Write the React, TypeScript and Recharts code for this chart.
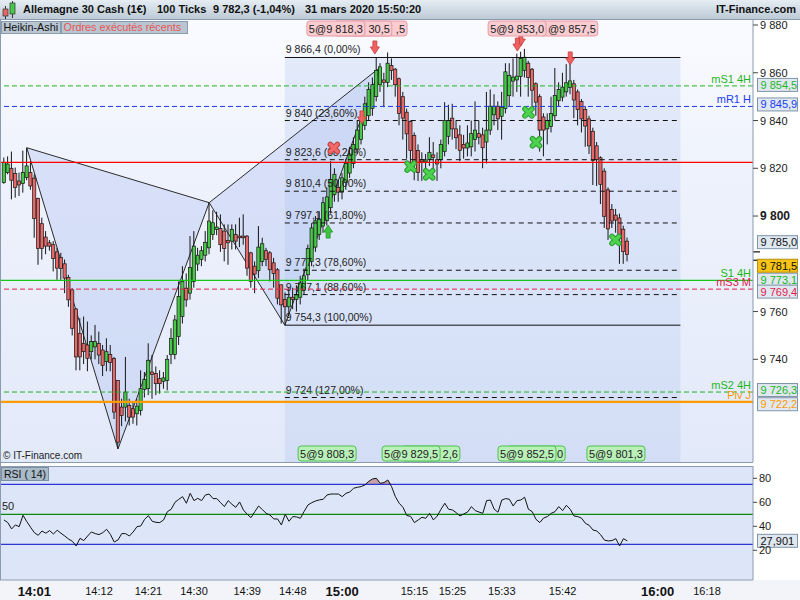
import React from "react";
import {
  ComposedChart,
  Bar,
  Line,
  Area,
  XAxis,
  YAxis,
  ReferenceLine,
  ReferenceArea,
  ReferenceDot,
} from "recharts";

// Heikin-Ashi candles, 100 ticks each
const haOpen = [
  9814.0, 9818.2, 9820.0, 9817.8, 9814.7, 9813.6, 9816.1, 9818.2, 9815.9, 9807.4,
  9796.8, 9791.2, 9788.8, 9788.0, 9785.0, 9782.7, 9780.0, 9774.3, 9769.1, 9761.1,
  9750.9, 9746.7, 9746.0, 9743.2, 9745.2, 9746.7, 9743.9, 9739.0, 9742.0, 9740.4,
  9731.2, 9720.0, 9720.0, 9720.7, 9719.3, 9717.2, 9718.6, 9727.4, 9727.7, 9734.7,
  9734.0, 9731.9, 9730.8, 9731.2, 9742.0, 9742.0, 9749.5, 9757.9, 9769.8, 9767.7,
  9772.6, 9779.9, 9781.8, 9783.6, 9786.7, 9792.3, 9794.4, 9794.8, 9793.7, 9789.8,
  9789.5, 9792.3, 9791.6, 9791.6, 9791.6, 9784.6, 9779.0, 9777.1, 9781.0, 9785.5,
  9784.6, 9780.4, 9777.5, 9771.2, 9765.0, 9762.0, 9766.0, 9765.0, 9766.0, 9769.0,
  9775.4, 9781.0, 9787.0, 9792.3, 9795.8, 9798.0, 9803.5, 9809.0, 9812.0, 9810.0,
  9814.0, 9818.0, 9822.0, 9828.0, 9832.0, 9838.0, 9842.0, 9845.0, 9850.0, 9855.0,
  9857.0, 9856.0, 9863.0, 9861.5, 9857.5, 9850.0, 9843.5, 9839.6, 9833.7, 9827.4,
  9823.6, 9822.7, 9823.6, 9825.6, 9823.6, 9823.6, 9827.0, 9833.4, 9841.0, 9836.5,
  9834.0, 9830.0, 9828.5, 9829.0, 9832.0, 9834.5, 9834.0, 9831.0, 9836.0, 9842.4,
  9846.0, 9841.8, 9845.0, 9850.4, 9856.5, 9857.0, 9858.5, 9861.0, 9864.0, 9861.5,
  9855.4, 9850.0, 9841.5, 9836.5, 9837.5, 9842.0, 9848.3, 9849.8, 9852.0, 9853.8,
  9855.4, 9852.0, 9848.0, 9844.6, 9840.7, 9835.5, 9829.4, 9824.4, 9818.8, 9811.0,
  9802.8, 9800.4, 9799.2, 9794.5, 9789.5,
];
const haHigh = [
  9824.5, 9825.0, 9827.0, 9820.3, 9818.2, 9827.4, 9828.6, 9823.0, 9817.5, 9807.7,
  9799.3, 9793.7, 9790.0, 9789.5, 9786.7, 9784.6, 9781.8, 9775.4, 9769.8, 9761.4,
  9757.2, 9757.9, 9755.8, 9750.0, 9754.4, 9751.6, 9746.0, 9748.8, 9746.0, 9741.0,
  9731.2, 9723.5, 9741.0, 9723.5, 9722.0, 9723.5, 9735.4, 9734.7, 9746.7, 9741.8,
  9737.0, 9735.4, 9734.7, 9741.8, 9753.0, 9758.6, 9772.6, 9779.0, 9776.0, 9791.6,
  9793.7, 9786.7, 9787.4, 9793.7, 9805.6, 9802.4, 9801.8, 9800.7, 9796.5, 9796.5,
  9796.5, 9796.5, 9799.3, 9800.7, 9792.0, 9785.0, 9781.0, 9795.8, 9790.9, 9786.7,
  9785.3, 9782.5, 9778.2, 9771.2, 9768.0, 9770.0, 9770.0, 9771.0, 9775.0, 9778.0,
  9788.0, 9797.0, 9800.0, 9802.0, 9808.0, 9812.0, 9823.0, 9820.0, 9815.0, 9818.0,
  9824.0, 9829.0, 9833.0, 9840.0, 9843.0, 9850.0, 9856.0, 9858.0, 9866.4, 9864.0,
  9860.0, 9868.5, 9866.0, 9862.0, 9858.0, 9852.0, 9845.0, 9840.0, 9835.0, 9830.0,
  9826.7, 9826.0, 9833.0, 9831.0, 9826.7, 9832.0, 9847.7, 9846.6, 9847.0, 9840.0,
  9838.0, 9834.0, 9838.0, 9840.0, 9848.0, 9840.0, 9837.0, 9852.0, 9853.0, 9851.0,
  9848.0, 9852.0, 9864.0, 9864.0, 9866.0, 9868.0, 9868.8, 9870.0, 9865.0, 9862.0,
  9856.0, 9851.0, 9843.0, 9843.0, 9850.0, 9862.0, 9856.0, 9860.0, 9863.6, 9866.0,
  9857.0, 9853.0, 9849.0, 9846.0, 9842.0, 9837.0, 9831.0, 9825.0, 9820.0, 9812.0,
  9805.0, 9803.0, 9801.0, 9796.0, 9791.0,
];
const haLow = [
  9813.5, 9817.5, 9807.0, 9807.7, 9808.4, 9809.8, 9815.0, 9811.0, 9790.9, 9779.6,
  9781.8, 9784.0, 9785.5, 9776.8, 9773.3, 9773.3, 9767.7, 9762.0, 9750.0, 9735.4,
  9735.4, 9738.0, 9735.0, 9740.0, 9740.0, 9738.0, 9733.0, 9735.0, 9735.0, 9715.0,
  9702.5, 9712.0, 9714.0, 9712.3, 9713.0, 9712.3, 9716.5, 9724.0, 9725.0, 9723.5,
  9725.0, 9725.6, 9727.7, 9727.0, 9738.0, 9740.0, 9746.0, 9755.0, 9762.0, 9765.0,
  9770.0, 9777.0, 9779.0, 9781.0, 9784.0, 9790.0, 9792.0, 9785.0, 9781.0, 9779.6,
  9786.0, 9786.0, 9787.0, 9788.0, 9775.0, 9770.0, 9767.7, 9774.0, 9779.0, 9779.0,
  9772.6, 9770.0, 9763.0, 9755.0, 9754.3, 9758.0, 9761.0, 9760.0, 9763.0, 9767.0,
  9773.0, 9779.0, 9785.0, 9790.0, 9793.0, 9796.0, 9801.0, 9806.0, 9806.0, 9807.0,
  9811.0, 9816.0, 9820.0, 9826.0, 9830.0, 9836.0, 9840.0, 9842.0, 9848.0, 9852.0,
  9845.6, 9854.0, 9857.0, 9850.0, 9838.0, 9832.0, 9824.0, 9820.0, 9815.0, 9814.7,
  9814.7, 9815.5, 9821.0, 9820.0, 9814.7, 9820.0, 9825.0, 9830.0, 9832.0, 9828.0,
  9823.0, 9824.0, 9825.0, 9825.0, 9827.0, 9830.0, 9820.0, 9822.0, 9834.0, 9838.0,
  9836.0, 9832.0, 9843.0, 9846.0, 9850.0, 9852.0, 9850.0, 9858.0, 9850.0, 9846.0,
  9842.0, 9827.0, 9825.0, 9830.0, 9835.0, 9840.0, 9846.0, 9848.0, 9850.0, 9851.0,
  9841.0, 9838.0, 9835.0, 9829.0, 9826.0, 9813.0, 9812.6, 9805.0, 9795.0, 9790.0,
  9795.0, 9793.0, 9780.0, 9780.0, 9781.0,
];
const haClose = [
  9822.5, 9821.8, 9815.0, 9812.0, 9813.0, 9818.2, 9821.0, 9812.6, 9799.0, 9786.4,
  9786.4, 9787.4, 9787.4, 9782.2, 9778.2, 9778.0, 9774.0, 9764.9, 9753.0, 9741.0,
  9741.0, 9743.2, 9740.4, 9747.4, 9747.4, 9741.8, 9737.5, 9743.2, 9738.7, 9717.9,
  9705.3, 9716.5, 9726.3, 9715.8, 9715.8, 9720.4, 9727.7, 9731.6, 9739.6, 9733.6,
  9729.8, 9729.8, 9732.2, 9740.0, 9748.8, 9756.5, 9766.3, 9772.6, 9764.9, 9778.5,
  9787.4, 9783.6, 9785.5, 9789.0, 9797.9, 9797.2, 9795.4, 9788.0, 9786.4, 9788.8,
  9794.4, 9789.5, 9790.9, 9790.9, 9778.2, 9772.6, 9775.7, 9787.0, 9788.4, 9781.8,
  9777.5, 9776.0, 9765.6, 9762.8, 9762.0, 9766.0, 9765.0, 9767.0, 9772.0, 9775.0,
  9786.4, 9795.0, 9798.0, 9798.6, 9805.6, 9808.0, 9815.4, 9817.5, 9810.0, 9816.0,
  9822.0, 9826.0, 9830.0, 9836.0, 9840.0, 9847.0, 9853.0, 9855.0, 9861.0, 9862.5,
  9856.0, 9864.0, 9861.0, 9855.0, 9843.0, 9841.0, 9834.4, 9827.4, 9822.5, 9818.2,
  9822.7, 9823.5, 9826.7, 9824.6, 9821.8, 9830.0, 9840.0, 9840.0, 9836.5, 9832.8,
  9827.5, 9828.5, 9830.6, 9834.5, 9836.0, 9833.0, 9828.6, 9836.0, 9846.0, 9846.0,
  9840.7, 9845.6, 9860.4, 9858.8, 9858.2, 9858.6, 9866.0, 9866.5, 9858.0, 9852.7,
  9847.7, 9836.0, 9836.0, 9840.0, 9843.0, 9850.5, 9853.0, 9854.0, 9855.8, 9856.6,
  9848.6, 9844.6, 9840.7, 9837.7, 9829.4, 9823.3, 9823.6, 9813.3, 9799.9, 9794.6,
  9797.9, 9798.3, 9790.5, 9785.1, 9783.9,
];

const rsi14 = [
  45.3, 43.1, 37.8, 41.1, 39.7, 49.2, 43.9, 39.2, 34.7, 32.5,
  36.1, 34.2, 36.4, 33.6, 36.7, 34.2, 31.9, 29.4, 27.5, 23.6,
  30.0, 28.1, 31.9, 35.3, 33.9, 33.1, 34.7, 37.5, 33.3, 26.9,
  28.6, 33.9, 33.9, 31.9, 35.3, 39.7, 40.3, 45.8, 48.9, 44.2,
  43.3, 43.1, 45.3, 52.2, 54.2, 60.0, 62.5, 64.7, 59.2, 67.5,
  61.4, 63.3, 61.4, 66.1, 66.9, 63.1, 63.1, 59.7, 56.4, 61.4,
  58.3, 55.8, 60.3, 53.6, 50.0, 47.2, 52.2, 56.9, 53.9, 50.8,
  49.4, 46.1, 46.1, 41.1, 50.0, 44.2, 48.1, 47.8, 46.7, 52.5,
  57.8, 59.7, 61.1, 62.0, 62.5, 66.1, 66.9, 66.9, 66.9, 64.7,
  67.5, 68.6, 71.7, 72.5, 73.1, 74.5, 77.5, 79.5, 80.0, 75.8,
  76.4, 78.6, 73.0, 64.7, 59.2, 55.8, 49.0, 48.3, 43.1, 45.3,
  47.5, 46.7, 50.8, 45.3, 48.5, 54.2, 59.2, 54.2, 53.6, 51.4,
  48.6, 50.3, 51.9, 56.4, 53.1, 51.9, 50.8, 61.4, 61.9, 54.2,
  51.7, 61.9, 63.1, 62.5, 56.9, 61.4, 61.9, 64.2, 54.2, 52.2,
  45.8, 43.1, 46.9, 48.1, 50.8, 52.2, 56.4, 53.1, 57.5, 54.2,
  48.6, 48.1, 46.7, 42.5, 40.8, 36.9, 36.1, 33.0, 28.5, 27.8,
  28.1, 29.7, 23.6, 29.7, 27.901,
];

const timeTickIdx = [8, 25, 38, 50, 64, 76, 89, 108, 118, 131, 147, 172, 185];
const timeTickLabels = ["14:01", "14:12", "14:21", "14:30", "14:39", "14:48", "15:00", "15:15", "15:25", "15:33", "15:42", "16:00", "16:18"];
const boldTimes = ["14:01", "15:00", "16:00"];
const priceTicks = [9740, 9760, 9800, 9820, 9840, 9860, 9880];
const rsiTicks = [20, 40, 60, 80];

// X A B C D points of the harmonic pattern
const patternIdx = [6, 30, 54, 73.9, 99];
const patternPrice = [9828.6, 9702.5, 9805.6, 9754.3, 9862.3];

const fibEndIdx = 178;
const fibValues = [9866.4, 9840, 9823.6, 9810.4, 9797.1, 9777.3, 9767.1, 9754.3, 9724];
const fibRatios = ["0,00%", "23,60%", "38,20%", "50,00%", "61,80%", "78,60%", "88,60%", "100,00%", "127,00%"];

const levelNames = ["mS1 4H", "mR1 H", "", "S1 4H", "mS3 M", "mS2 4H", "Piv J"];
const levelValues = [9854.5, 9845.9, 9822.5, 9773.1, 9769.4, 9726.3, 9722.2];
const markerValues = [9785.0, 9781.5];

// executed orders; boxes drawn back to front, only the visible part of covered labels is shown
const topOrderIdx = [90.8, 86.8, 79.7, 141, 127.4];
const topOrderText = [",5", "30,5", "5@9 818,3", "@9 857,5", "5@9 853,0"];
const bottomOrderIdx = [77.4, 104.7, 99.5, 132.4, 130, 153.4];
const bottomOrderText = ["5@9 808,3", "2,6", "5@9 829,5", "0", "5@9 852,5", "5@9 801,3"];

const arrowDownIdx = [97.6, 94.2, 136.0, 135.1, 149];
const arrowDownPrice = [9870.4, 9841.1, 9873.7, 9871.6, 9865.8];
const arrowUpIdx = [85.3];
const arrowUpPrice = [9793.7];
const crossGreenIdx = [107, 111.9, 138, 140, 160.9];
const crossGreenPrice = [9820.7, 9817.5, 9843.4, 9830.9, 9790.0];
const crossRedIdx = [86.8];
const crossRedPrice = [9828.5];

const candles = haOpen.map((o, i) => ({ i, open: o, high: haHigh[i], low: haLow[i], close: haClose[i] }));
const rsiData = rsi14.map((v, i) => ({ i, rsi: v }));

const X_DOMAIN: [number, number] = [-1.05, 197.1];
const PRICE_DOMAIN: [number, number] = [9697, 9882.1];
const RSI_DOMAIN: [number, number] = [-4.75, 90.25];

const levelStyles = [
  { stroke: "#1fb51f", dash: "5 3", width: 1, text: "#1fb51f", shift: -1 },
  { stroke: "#1a3cf0", dash: "5 3", width: 1, text: "#1a3cf0", shift: -2 },
  { stroke: "#ff0000", dash: undefined, width: 1.2, text: "#ff0000", shift: 0 },
  { stroke: "#14c814", dash: undefined, width: 1.2, text: "#14b814", shift: -0.6 },
  { stroke: "#e3204a", dash: "5 3", width: 1, text: "#e3204a", shift: 2.5 },
  { stroke: "#1fb51f", dash: "5 3", width: 1, text: "#1fb51f", shift: -2 },
  { stroke: "#ff9a00", dash: undefined, width: 2.2, text: "#ff9a00", shift: 2.4 },
];
const markerStyles = [
  { bg: "#dfe7f0", border: "#7f94a9", text: "#111", shift: -9.7 },
  { bg: "#f7c316", border: "#b8900a", text: "#111", shift: 5.5 },
];

function fmt(v: number, dec: number): string {
  const s = v.toFixed(dec);
  const [a, b] = s.split(".");
  const grouped = a.replace(/\B(?=(\d{3})+(?!\d))/g, " ");
  return b ? `${grouped},${b}` : grouped;
}

const ValueBox = ({ x, y, text, color, bg = "#dfe7f0", border = "#7f94a9" }: any) => (
  <g>
    <rect x={x} y={y - 6.5} width={40} height={13} fill={bg} stroke={border} strokeWidth={1} />
    <text x={x + 3} y={y + 4} fontSize={11} fill={color}>
      {text}
    </text>
  </g>
);

const Candle = (props: any) => {
  const { x, y, width, height, payload } = props;
  if (x == null || y == null || !payload) return null;
  const top = Math.min(y, y + height);
  const h = Math.abs(height);
  const span = payload.high - payload.low || 1;
  const py = (p: number) => top + ((payload.high - p) / span) * h;
  const cx = x + width / 2;
  const up = payload.close >= payload.open;
  const b1 = py(Math.max(payload.open, payload.close));
  const b2 = py(Math.min(payload.open, payload.close));
  return (
    <g>
      <line x1={cx} x2={cx} y1={top} y2={top + h} stroke="#151515" strokeWidth={1} />
      <rect
        x={cx - 1.6}
        y={b1}
        width={3.2}
        height={Math.max(b2 - b1, 1.2)}
        fill={up ? "#47c947" : "#e86868"}
        stroke="#151515"
        strokeWidth={0.7}
      />
    </g>
  );
};

function triangle(ids: number[]) {
  const xs = ids.map((k) => patternIdx[k]);
  const ps = ids.map((k) => patternPrice[k]);
  const x1 = Math.min(...xs);
  const x2 = Math.max(...xs);
  const lo = Math.min(...ps);
  const hi = Math.max(...ps);
  const shape = (props: any) => {
    const { x, y, width, height } = props;
    const pts = xs
      .map((v, n) => `${x + ((v - x1) / (x2 - x1)) * width},${y + ((hi - ps[n]) / (hi - lo)) * height}`)
      .join(" ");
    return <polygon points={pts} fill="#9db5ee" fillOpacity={0.28} stroke="#2b2b2b" strokeWidth={1} />;
  };
  return { x1, x2, lo, hi, shape };
}

const triXAB = triangle([0, 1, 2]);
const triBCD = triangle([2, 3, 4]);

const ArrowDown = ({ cx, cy }: any) => (
  <path
    d={`M${cx - 2},${cy - 7} H${cx + 2} V${cy - 1} H${cx + 4.5} L${cx},${cy + 6} L${cx - 4.5},${cy - 1} H${cx - 2} Z`}
    fill="#f06262"
    stroke="#c43c3c"
    strokeWidth={0.8}
  />
);
const ArrowUp = ({ cx, cy }: any) => (
  <path
    d={`M${cx - 2},${cy + 7} H${cx + 2} V${cy + 1} H${cx + 4.5} L${cx},${cy - 6} L${cx - 4.5},${cy + 1} H${cx - 2} Z`}
    fill="#3cc83c"
    stroke="#23922a"
    strokeWidth={0.8}
  />
);
const makeCross = (fill: string, dark: string) => ({ cx, cy }: any) => {
  const d = `M${cx - 3.5},${cy - 3.5} L${cx + 3.5},${cy + 3.5} M${cx + 3.5},${cy - 3.5} L${cx - 3.5},${cy + 3.5}`;
  return (
    <g>
      <path d={d} stroke={dark} strokeWidth={5.5} strokeLinecap="round" />
      <path d={d} stroke={fill} strokeWidth={3.5} strokeLinecap="round" />
    </g>
  );
};
const GreenCross = makeCross("#4cd24c", "#2a9a30");
const RedCross = makeCross("#f06a6a", "#c44040");

const orderBox = (text: string, top: boolean) => ({ cx, cy }: any) => {
  const y0 = top ? cy + 1 : cy - 16;
  return (
    <g>
      <rect
        x={cx}
        y={y0}
        width={58}
        height={15}
        rx={3}
        fill={top ? "#f8ccd0" : "#b8f0b8"}
        stroke={top ? "#e79aa3" : "#4fc24f"}
        strokeWidth={1}
      />
      <text x={cx + 56} y={y0 + 11.5} textAnchor="end" fontSize={11} fill="#222">
        {text}
      </text>
    </g>
  );
};

const PriceTick = (props: any) => {
  const { x, y, payload } = props;
  const bold = payload.value === 9800;
  return (
    <text x={x} y={y + 4} fontSize={bold ? 12 : 11} fontWeight={bold ? 700 : 400} fill="#1a1a1a">
      {fmt(payload.value, 0)}
    </text>
  );
};

const RsiTick = (props: any) => {
  const { x, y, payload } = props;
  return (
    <text x={x} y={y + 4} fontSize={11} fill="#1a1a1a">
      {payload.value}
    </text>
  );
};

const TimeTick = (props: any) => {
  const { x, y, payload } = props;
  const k = timeTickIdx.indexOf(payload.value);
  const label = k >= 0 ? timeTickLabels[k] : "";
  const bold = boldTimes.includes(label);
  return (
    <text x={x} y={y + (bold ? 8 : 7)} textAnchor="middle" fontSize={bold ? 13 : 11} fontWeight={bold ? 700 : 400} fill="#111">
      {label}
    </text>
  );
};

function PriceChart() {
  return (
    <ComposedChart width={800} height={442} data={candles} margin={{ top: 0, right: 0, bottom: 0, left: 0 }}>
      <XAxis dataKey="i" type="number" domain={X_DOMAIN} hide allowDataOverflow />
      <YAxis
        orientation="right"
        width={47}
        type="number"
        domain={PRICE_DOMAIN}
        ticks={priceTicks}
        interval={0}
        allowDataOverflow
        tick={PriceTick}
        tickSize={5}
        tickLine={{ stroke: "#444" }}
        axisLine={{ stroke: "#8a9bb0" }}
      />
      <ReferenceArea
        x1={patternIdx[3]}
        x2={fibEndIdx}
        y1={PRICE_DOMAIN[0]}
        y2={fibValues[0]}
        fill="#a8bff0"
        fillOpacity={0.25}
        stroke="none"
      />
      <ReferenceArea x1={triXAB.x1} x2={triXAB.x2} y1={triXAB.lo} y2={triXAB.hi} shape={triXAB.shape} />
      <ReferenceArea x1={triBCD.x1} x2={triBCD.x2} y1={triBCD.lo} y2={triBCD.hi} shape={triBCD.shape} />

      {fibValues.map((v, k) => (
        <ReferenceLine
          key={`fib${k}`}
          segment={[
            { x: patternIdx[3], y: v },
            { x: fibEndIdx, y: v },
          ]}
          stroke="#111"
          strokeWidth={1}
          strokeDasharray={k === 0 || k === 7 ? undefined : "5 4"}
          label={(p: any) => (
            <text x={p.viewBox.x + 1} y={p.viewBox.y - 4} fontSize={10.5} fill="#222">
              {`${fmt(v, Number.isInteger(v) ? 0 : 1)} (${fibRatios[k]})`}
            </text>
          )}
        />
      ))}

      {levelValues.map((v, k) => {
        const s = levelStyles[k];
        return (
          <ReferenceLine
            key={`lvl${k}`}
            y={v}
            stroke={s.stroke}
            strokeWidth={s.width}
            strokeDasharray={s.dash}
            label={(p: any) => {
              if (!levelNames[k]) return <g />;
              const right = p.viewBox.x + p.viewBox.width;
              const y = p.viewBox.y;
              return (
                <g>
                  <text x={right - 2} y={y - 3} textAnchor="end" fontSize={11} fill={s.text}>
                    {levelNames[k]}
                  </text>
                  <ValueBox x={right + 4.5} y={y + s.shift} text={fmt(v, 1)} color={s.text} />
                </g>
              );
            }}
          />
        );
      })}

      {markerValues.map((v, k) => {
        const s = markerStyles[k];
        return (
          <ReferenceLine
            key={`mk${k}`}
            y={v}
            stroke="none"
            label={(p: any) => {
              const right = p.viewBox.x + p.viewBox.width;
              const y = p.viewBox.y;
              return (
                <g>
                  <line x1={right} x2={right + 7} y1={y} y2={y} stroke="#111" strokeWidth={1.2} />
                  <ValueBox x={right + 4.5} y={y + s.shift} text={fmt(v, 1)} color={s.text} bg={s.bg} border={s.border} />
                </g>
              );
            }}
          />
        );
      })}

      <Bar dataKey={(d: any) => [d.low, d.high]} barSize={4} shape={Candle} isAnimationActive={false} />

      {arrowDownIdx.map((x, k) => (
        <ReferenceDot key={`ad${k}`} x={x} y={arrowDownPrice[k]} r={6} ifOverflow="visible" shape={ArrowDown} />
      ))}
      {arrowUpIdx.map((x, k) => (
        <ReferenceDot key={`au${k}`} x={x} y={arrowUpPrice[k]} r={6} ifOverflow="visible" shape={ArrowUp} />
      ))}
      {crossGreenIdx.map((x, k) => (
        <ReferenceDot key={`cg${k}`} x={x} y={crossGreenPrice[k]} r={6} ifOverflow="visible" shape={GreenCross} />
      ))}
      {crossRedIdx.map((x, k) => (
        <ReferenceDot key={`cr${k}`} x={x} y={crossRedPrice[k]} r={6} ifOverflow="visible" shape={RedCross} />
      ))}
      {topOrderIdx.map((x, k) => (
        <ReferenceDot key={`to${k}`} x={x} y={PRICE_DOMAIN[1]} r={1} ifOverflow="visible" shape={orderBox(topOrderText[k], true)} />
      ))}
      {bottomOrderIdx.map((x, k) => (
        <ReferenceDot key={`bo${k}`} x={x} y={PRICE_DOMAIN[0]} r={1} ifOverflow="visible" shape={orderBox(bottomOrderText[k], false)} />
      ))}
    </ComposedChart>
  );
}

function RsiChart() {
  const last = rsi14[rsi14.length - 1];
  return (
    <ComposedChart width={800} height={134} data={rsiData} margin={{ top: 0, right: 0, bottom: 0, left: 0 }}>
      <XAxis
        dataKey="i"
        type="number"
        domain={X_DOMAIN}
        allowDataOverflow
        ticks={timeTickIdx}
        interval={0}
        height={20}
        tick={TimeTick}
        tickSize={6}
        tickMargin={2}
        tickLine={false}
        axisLine={{ stroke: "#8a9bb0" }}
      />
      <YAxis
        orientation="right"
        width={47}
        type="number"
        domain={RSI_DOMAIN}
        ticks={rsiTicks}
        interval={0}
        allowDataOverflow
        tick={RsiTick}
        tickSize={4}
        tickLine={{ stroke: "#444" }}
        axisLine={{ stroke: "#8a9bb0" }}
      />
      <ReferenceLine y={75} stroke="#2b35d8" strokeWidth={1.2} />
      <ReferenceLine
        y={50}
        stroke="#0a8a0a"
        strokeWidth={1.2}
        label={(p: any) => (
          <text x={p.viewBox.x + 2} y={p.viewBox.y - 4} fontSize={11} fill="#222">
            50
          </text>
        )}
      />
      <ReferenceLine y={25} stroke="#2b35d8" strokeWidth={1.2} />
      <Area
        dataKey={(d: any) => [75, Math.max(75, d.rsi)]}
        stroke="none"
        fill="#c4a0aa"
        fillOpacity={1}
        isAnimationActive={false}
      />
      <Line dataKey="rsi" stroke="#111" strokeWidth={1} dot={false} isAnimationActive={false} />
      <ReferenceLine
        y={last}
        stroke="none"
        label={(p: any) => (
          <ValueBox x={p.viewBox.x + p.viewBox.width + 4.5} y={p.viewBox.y} text={fmt(last, 3)} color="#111" />
        )}
      />
    </ComposedChart>
  );
}

function Header() {
  return (
    <div
      style={{
        position: "absolute",
        left: 0,
        top: 0,
        width: 800,
        height: 19,
        background: "linear-gradient(180deg, #e6edf3 0%, #bccad6 100%)",
        borderBottom: "1px solid #8a9bb0",
        fontSize: 11,
        fontWeight: 700,
        color: "#111",
        lineHeight: "13px",
      }}
    >
      <svg width={20} height={20} style={{ position: "absolute", left: 0, top: 0 }}>
        <line x1={5.5} x2={5.5} y1={6} y2={19} stroke="#333" />
        <rect x={3} y={9} width={5} height={7} fill="#e86868" stroke="#333" strokeWidth={0.7} />
        <line x1={12.5} x2={12.5} y1={1} y2={18} stroke="#333" />
        <rect x={10} y={3} width={5} height={11} fill="#47c947" stroke="#333" strokeWidth={0.7} />
      </svg>
      <span style={{ position: "absolute", left: 23, top: 3 }}>Allemagne 30 Cash (1€)</span>
      <span style={{ position: "absolute", left: 157, top: 3 }}>100 Ticks</span>
      <span style={{ position: "absolute", left: 213, top: 3 }}>9 782,3 (-1,04%)</span>
      <span style={{ position: "absolute", left: 305, top: 3 }}>31 mars 2020 15:50:20</span>
      <span style={{ position: "absolute", right: 4, top: 3 }}>IT-Finance.com</span>
    </div>
  );
}

const tabStyle: React.CSSProperties = {
  position: "absolute",
  top: 21,
  height: 13,
  background: "#b8c6d2",
  border: "1px solid #8a9bb0",
  fontSize: 10.8,
  lineHeight: "11px",
  paddingLeft: 1.5,
  boxSizing: "border-box",
  whiteSpace: "nowrap",
  overflow: "hidden",
};

export default function App() {
  return (
    <div
      style={{
        position: "absolute",
        left: 0,
        top: 0,
        width: 800,
        height: 600,
        background: "#ffffff",
        overflow: "hidden",
        fontFamily: '"Liberation Sans", Arial, Helvetica, sans-serif',
      }}
    >
      <Header />
      <div
        style={{
          position: "absolute",
          left: 0,
          top: 20,
          width: 753,
          height: 442,
          background: "linear-gradient(180deg, #fafbff 0%, #eef2fc 35%, #e2e9f9 100%)",
        }}
      />
      <div style={{ position: "absolute", left: 0, top: 466, width: 753, height: 114, background: "#dde6f9" }} />
      <div style={{ position: "absolute", left: 0, top: 580, width: 800, height: 20, background: "#f2f4f9" }} />
      <div style={{ position: "absolute", left: 0, top: 20 }}>
        <PriceChart />
      </div>
      <div style={{ position: "absolute", left: 0, top: 466 }}>
        <RsiChart />
      </div>
      <div style={{ position: "absolute", left: 0, top: 462, width: 753, height: 1, background: "#8a9bb0" }} />
      <div style={{ position: "absolute", left: 0, top: 466, width: 753, height: 1, background: "#8a9bb0" }} />
      <div style={{ position: "absolute", left: 0, top: 20, width: 1, height: 560, background: "#8a9bb0" }} />
      <div style={{ ...tabStyle, left: 1, width: 60, color: "#111" }}>Heikin-Ashi</div>
      <div style={{ ...tabStyle, left: 61, width: 127, color: "#e85454" }}>Ordres exécutés récents</div>
      <div style={{ position: "absolute", left: 3, top: 450, fontSize: 10, lineHeight: "12px", color: "#222" }}>
        © IT-Finance.com
      </div>
      <div
        style={{
          position: "absolute",
          left: 1,
          top: 467,
          width: 48,
          height: 14,
          background: "#a9bac9",
          border: "1px solid #7d8fa3",
          boxSizing: "border-box",
          fontSize: 10.5,
          lineHeight: "12px",
          paddingLeft: 2,
          color: "#111",
          whiteSpace: "nowrap",
          overflow: "hidden",
        }}
      >
        RSI ( 14)
      </div>
    </div>
  );
}
